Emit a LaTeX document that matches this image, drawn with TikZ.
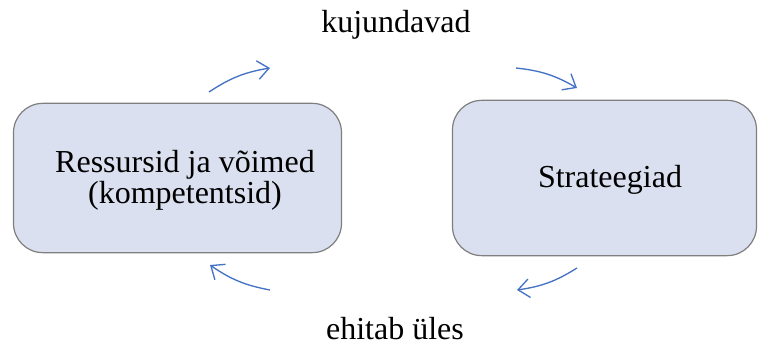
\documentclass[tikz,border=0pt]{standalone}
\usepackage{fontspec}
\setmainfont{Liberation Serif}
\usetikzlibrary{arrows.meta}
\definecolor{boxfill}{HTML}{DAE0EF}
\definecolor{boxline}{HTML}{7F7F7F}
\definecolor{arrowblue}{HTML}{4472C4}
\begin{document}
\begin{tikzpicture}[x=0.75pt,y=-0.75pt,
  box/.style={draw=boxline, line width=0.9pt, fill=boxfill, rounded corners=22pt,
    inner sep=0pt},
  boxtext/.style={inner sep=0pt, align=center, font=\fontsize{24}{23}\selectfont},
  label/.style={inner sep=0pt, anchor=base, font=\fontsize{24}{27}\selectfont},
  flow/.style={draw=arrowblue, line width=1pt,
    -{Straight Barb[length=8.5pt,width=14pt,line width=1pt]}, bend left=12}]
  \useasboundingbox (0,0) rectangle (758,345);

  % the two boxes
  \node[box, minimum width=246pt, minimum height=112pt] (res) at (177.5,178) {};
  \node[box, minimum width=228pt, minimum height=116.5pt] (str) at (604.5,178) {};
  \node[boxtext] (restext) at (185,180) {Ressursid ja võimed\\(kompetentsid)};
  \node[boxtext] (strtext) at (610,180) {Strateegiad};

  % labels of the cycle
  \node[label] (top) at (396,33) {kujundavad};
  \node[label] (bot) at (395,340) {ehitab üles};

  % arrow ends
  \coordinate (a1) at (209,92);  \coordinate (a2) at (270,68);
  \coordinate (b1) at (516,68);  \coordinate (b2) at (577,88);
  \coordinate (c1) at (577,268); \coordinate (c2) at (517,290);
  \coordinate (d1) at (270,290); \coordinate (d2) at (210,265);

  \draw[flow] (a1) to (a2);
  \draw[flow] (b1) to (b2);
  \draw[flow] (c1) to (c2);
  \draw[flow] (d1) to (d2);
\end{tikzpicture}
\end{document}
